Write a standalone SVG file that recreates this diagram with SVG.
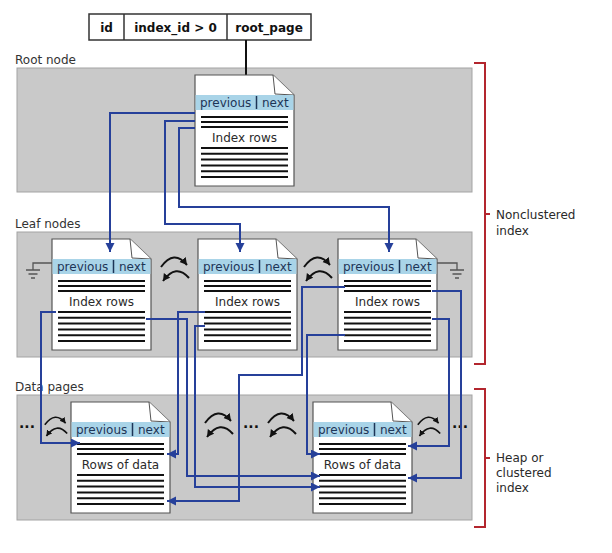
<svg xmlns="http://www.w3.org/2000/svg" xmlns:xlink="http://www.w3.org/1999/xlink" width="612" height="553" viewBox="0 0 612 553">
<style>
text{font-family:"DejaVu Sans","Verdana",sans-serif;font-size:12px;fill:#2a2a2a}
.band{fill:#c9c9c9;stroke:#a3a3a3;stroke-width:1}
.blabel{fill:#333}
.hdr{fill:#1d3557}
.tbl{font-weight:bold;fill:#111}
.conn{fill:none;stroke:#26409a;stroke-width:2;stroke-linejoin:miter}
.bracket{fill:none;stroke:#b3262e;stroke-width:2}
.swap{fill:none;stroke:#111;stroke-width:2}
.gnd{fill:none;stroke:#555;stroke-width:1.3}
.dots{font-weight:bold;font-size:14px;fill:#111}
</style>
<defs>
<marker id="arrB" markerUnits="userSpaceOnUse" markerWidth="10" markerHeight="10" refX="9" refY="4.5" orient="auto">
<path d="M0,0 L9,4.5 L0,9 Z" fill="#26409a"/>
</marker>
<marker id="arrK" markerUnits="userSpaceOnUse" markerWidth="9" markerHeight="9" refX="7" refY="4" orient="auto">
<path d="M0,0 L7,4 L0,8 Z" fill="#111"/>
</marker>
<g id="pageBase">
<path d="M0,0 H78 L99,20 V111 H0 Z" fill="#fff" stroke="#555" stroke-width="1.2"/>
<path d="M78,0 L80,19 L99,20" fill="#fff" stroke="#555" stroke-width="1"/>
<rect x="0.6" y="20" width="97.8" height="15" fill="#a9d4e8"/>
<line x1="61.5" y1="21" x2="61.5" y2="34" stroke="#1d3557" stroke-width="1.5"/>
<g stroke="#111" stroke-width="2">
<line x1="6" y1="42" x2="93" y2="42"/>
<line x1="6" y1="47" x2="93" y2="47"/>
<line x1="6" y1="52" x2="93" y2="52"/>
<line x1="6" y1="73" x2="93" y2="73"/>
<line x1="6" y1="78.8" x2="93" y2="78.8"/>
<line x1="6" y1="84.6" x2="93" y2="84.6"/>
<line x1="6" y1="90.4" x2="93" y2="90.4"/>
<line x1="6" y1="96.2" x2="93" y2="96.2"/>
<line x1="6" y1="102" x2="93" y2="102"/>
</g>
</g>
<g id="swapPair">
<path class="swap" d="M-14,11 Q-1,-7 12,9" marker-end="url(#arrK)"/>
<path class="swap" d="M14,22 Q1,7 -12,25" marker-end="url(#arrK)"/>
</g>
</defs>

<g id="bands">
<rect class="band" x="17" y="68" width="455" height="124"/>
<rect class="band" x="17" y="232" width="455" height="125"/>
<rect class="band" x="17" y="395" width="455" height="125"/>
<text class="blabel" x="15" y="64">Root node</text>
<text class="blabel" x="15" y="228">Leaf nodes</text>
<text class="blabel" x="15" y="391">Data pages</text>
</g>

<g id="sysindexes">
<rect x="89" y="14" width="222" height="26" fill="#fff" stroke="#333" stroke-width="1.5"/>
<line x1="124" y1="14" x2="124" y2="40" stroke="#333" stroke-width="1.5"/>
<line x1="227" y1="14" x2="227" y2="40" stroke="#333" stroke-width="1.5"/>
<text class="tbl" x="106.5" y="32" text-anchor="middle">id</text>
<text class="tbl" x="175.5" y="32" text-anchor="middle">index_id &gt; 0</text>
<text class="tbl" x="269" y="32" text-anchor="middle">root_page</text>
<line x1="246" y1="40" x2="246" y2="75" stroke="#111" stroke-width="2"/>
</g>

<g id="root" transform="translate(195,75)">
<use xlink:href="#pageBase"/>
<text class="hdr" x="5" y="32">previous</text>
<text class="hdr" x="67" y="32">next</text>
<text x="49.5" y="67" text-anchor="middle">Index rows</text>
</g>

<g id="leaf1" transform="translate(52,239)">
<use xlink:href="#pageBase"/>
<text class="hdr" x="5" y="32">previous</text>
<text class="hdr" x="67" y="32">next</text>
<text x="49.5" y="67" text-anchor="middle">Index rows</text>
</g>
<g id="leaf2" transform="translate(198,239)">
<use xlink:href="#pageBase"/>
<text class="hdr" x="5" y="32">previous</text>
<text class="hdr" x="67" y="32">next</text>
<text x="49.5" y="67" text-anchor="middle">Index rows</text>
</g>
<g id="leaf3" transform="translate(338,239)">
<use xlink:href="#pageBase"/>
<text class="hdr" x="5" y="32">previous</text>
<text class="hdr" x="67" y="32">next</text>
<text x="49.5" y="67" text-anchor="middle">Index rows</text>
</g>

<g id="data1" transform="translate(71,402)">
<use xlink:href="#pageBase"/>
<text class="hdr" x="5" y="32">previous</text>
<text class="hdr" x="67" y="32">next</text>
<text x="49.5" y="67" text-anchor="middle">Rows of data</text>
</g>
<g id="data2" transform="translate(313,402)">
<use xlink:href="#pageBase"/>
<text class="hdr" x="5" y="32">previous</text>
<text class="hdr" x="67" y="32">next</text>
<text x="49.5" y="67" text-anchor="middle">Rows of data</text>
</g>

<g id="grounds">
<path class="gnd" d="M52,263 H33 V270 M26,270 H40 M28.5,274 H37.5 M31,278 H35"/>
<path class="gnd" d="M437,263 H457 V270 M450,270 H464 M452.5,274 H461.5 M455,278 H459"/>
</g>

<g id="siblings">
<use xlink:href="#swapPair" transform="translate(175,256)"/>
<use xlink:href="#swapPair" transform="translate(318,256)"/>
<use xlink:href="#swapPair" transform="translate(56,416) scale(0.8)"/>
<use xlink:href="#swapPair" transform="translate(219,412)"/>
<use xlink:href="#swapPair" transform="translate(282,412)"/>
<use xlink:href="#swapPair" transform="translate(429,416) scale(0.8)"/>
<text class="dots" x="19" y="428">...</text>
<text class="dots" x="243" y="428">...</text>
<text class="dots" x="452" y="428">...</text>
</g>

<g id="connectors">
<path class="conn" d="M195,113 H110 V252" marker-end="url(#arrB)"/>
<path class="conn" d="M195,121 H165 V224 H240 V252" marker-end="url(#arrB)"/>
<path class="conn" d="M195,128 H179 V207 H389 V252" marker-end="url(#arrB)"/>
<path class="conn" d="M56,312 H41 V443 H80" marker-end="url(#arrB)"/>
<path class="conn" d="M205,312 H178 V454 H167" marker-end="url(#arrB)"/>
<path class="conn" d="M146,319 H187 V476 H320" marker-end="url(#arrB)"/>
<path class="conn" d="M205,326 H195 V487 H320" marker-end="url(#arrB)"/>
<path class="conn" d="M345,287 H302 V375 H239 V501 H167" marker-end="url(#arrB)"/>
<path class="conn" d="M345,335 H307 V454 H320" marker-end="url(#arrB)"/>
<path class="conn" d="M432,291 H461 V478 H408" marker-end="url(#arrB)"/>
<path class="conn" d="M432,319 H449 V446 H408" marker-end="url(#arrB)"/>
</g>

<g id="brackets">
<path class="bracket" d="M474,63 H485 V364 H474 M485,214 H490"/>
<path class="bracket" d="M474,389 H485 V527 H474 M485,458 H490"/>
<text x="496" y="219">Nonclustered</text>
<text x="496" y="235">index</text>
<text x="496" y="462">Heap or</text>
<text x="496" y="477">clustered</text>
<text x="496" y="492">index</text>
</g>
</svg>
